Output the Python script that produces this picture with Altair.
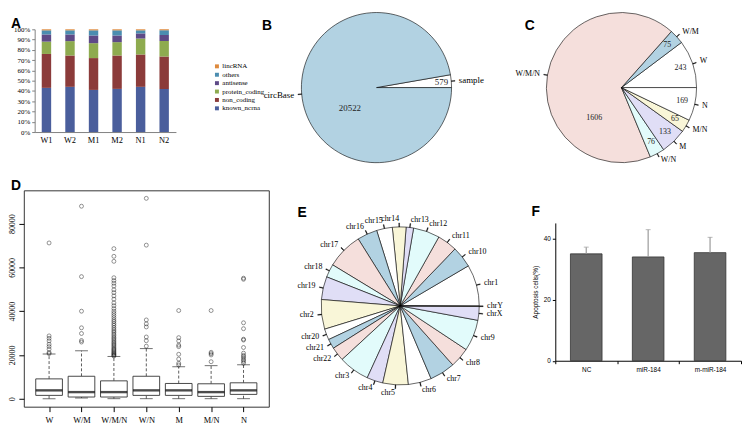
import math
import altair as alt
import pandas as pd

SERIF = "Liberation Serif"
SANS = "Liberation Sans"

# ---------------- A: stacked percentage bars ----------------
a_samples = ["W1", "W2", "M1", "M2", "N1", "N2"]
a_types = ["known_ncrna", "non_coding", "protein_coding", "antisense", "others", "lincRNA"]
a_known_ncrna = [43, 44, 41, 42, 44, 42]
a_non_coding = [33, 30.5, 31, 32.5, 31.5, 31.5]
a_protein_coding = [12, 14, 14.5, 13, 15.5, 15]
a_antisense = [7, 6.5, 7.5, 6.5, 5, 6]
a_others = [4, 4, 5, 5, 3, 4.5]
a_lincRNA = [1, 1, 1, 1, 1, 1]
a_colors = ["#4a5e9c", "#8b3b3a", "#8eab4f", "#5e4a87", "#4b8db0", "#de8a3e"]
a_ticks = [0, 10, 20, 30, 40, 50, 60, 70, 80, 90, 100]

# ---------------- B: circBase vs sample ----------------
b_labels = ["sample", "circBase"]
b_values = [579, 20522]

# ---------------- C: overlap groups ----------------
c_labels = ["W", "W/M", "W/M/N", "W/N", "M", "M/N", "N"]
c_values = [243, 75, 1606, 76, 133, 65, 169]

# R default pie palette (white, lightblue, mistyrose, lightcyan, lavender, cornsilk)
pie_palette = ["#ffffff", "#b2d2e2", "#f5dfdc", "#e2fbfb", "#e0def6", "#f9f6d8"]

# ---------------- D: boxplots ----------------
d_groups = ["W", "W/M", "W/M/N", "W/N", "M", "M/N", "N"]
d_lo = [0, 300, 0, 0, 0, 0, 0]
d_q1 = [1500, 750, 750, 1500, 1500, 1050, 1950]
d_med = [3800, 3000, 3000, 3800, 3800, 3000, 3800]
d_q3 = [9050, 10250, 8150, 10250, 6950, 6800, 7250]
d_hi = [20400, 21900, 19300, 22900, 14600, 15100, 15500]
d_out_W = [71200, 28700, 27600, 26400, 24900, 23800, 22600, 21100, 20600]
d_out_WM = [88000, 55800, 40000, 32400, 29800, 26600, 25900]
d_out_WMN = [19500, 19800, 20200, 20600, 21000, 21500, 22000, 22500, 23000, 23600,
             24200, 24800, 25400, 26000, 26700, 27400, 28000, 28800, 29500, 30300,
             31000, 31800, 32600, 33500, 34300, 35200, 36000, 37000, 38000, 39000,
             40000, 41200, 42500, 43800, 45500, 47000, 48500, 49800, 51500, 52800,
             54000, 55300, 62800, 65100, 68600]
d_out_WN = [91600, 70200, 36000, 34200, 32800, 28200, 26500, 24000]
d_out_M = [40300, 27900, 26400, 24500, 23800, 20300, 18100, 16200, 15400]
d_out_MN = [40300, 21200, 20600, 20000, 16900]
d_out_N = [55100, 54600, 34700, 32000, 27200, 26800, 23400, 20800, 19800, 19200,
           18400, 17700, 17000, 16200]

# ---------------- E: chromosomes ----------------
e_chroms = ["chr1", "chr10", "chr11", "chr12", "chr13", "chr14", "chr15", "chr16",
            "chr17", "chr18", "chr19", "chr2", "chr20", "chr21", "chr22", "chr3",
            "chr4", "chr5", "chr6", "chr7", "chr8", "chr9", "chrX", "chrY"]
e_counts = [200, 103, 96, 128, 36, 66, 76, 97, 175, 64, 111, 143, 53, 47, 68, 149,
            78, 123, 112, 123, 97, 151, 66, 3]

# ---------------- F: apoptosis bars ----------------
f_groups = ["NC", "miR-184", "m-miR-184"]
f_mean = [34.9, 33.9, 35.3]
f_sd = [2.2, 8.9, 5.0]


def panel_title(letter, dx, offset):
    return alt.TitleParams(letter, anchor="start", frame="group", font=SANS,
                           fontSize=14, fontWeight="bold", color="black",
                           dx=dx, offset=offset)


def spacer(w, h):
    return alt.Chart(pd.DataFrame({"v": [0]})).mark_point(opacity=0).properties(width=w, height=h)


def indep(c):
    return c.resolve_scale(color="independent", theta="independent",
                           x="independent", y="independent").resolve_legend(color="independent")


# ---------- A ----------
rowsA = []
for k, (t, vals) in enumerate(zip(a_types, [a_known_ncrna, a_non_coding, a_protein_coding,
                                            a_antisense, a_others, a_lincRNA])):
    for s, v in zip(a_samples, vals):
        rowsA.append({"sample": s, "type": t, "value": v, "ord": k})
dfA = pd.DataFrame(rowsA)

chartA = alt.Chart(dfA).mark_bar().encode(
    x=alt.X("sample:N", sort=a_samples,
            scale=alt.Scale(paddingInner=0.6, paddingOuter=0.3),
            axis=alt.Axis(title=None, labelAngle=0, ticks=False, domainColor="#808080",
                          labelFont=SERIF, labelFontSize=8.5, labelPadding=4)),
    y=alt.Y("value:Q", stack="zero", scale=alt.Scale(domain=[0, 100], nice=False),
            axis=alt.Axis(title=None, values=a_ticks, labelExpr="datum.value + '%'",
                          tickSize=3, domainColor="#808080", tickColor="#808080",
                          labelFont=SERIF, labelFontSize=7, labelPadding=2)),
    color=alt.Color("type:N", scale=alt.Scale(domain=a_types[::-1], range=a_colors[::-1]),
                    legend=alt.Legend(orient="none", legendX=181, legendY=34, title=None,
                                      symbolType="square", symbolSize=16, symbolStrokeWidth=0,
                                      labelFont=SERIF, labelFontSize=7, rowPadding=0.5,
                                      labelOffset=2, padding=0)),
    order=alt.Order("ord:Q", sort="ascending"),
).properties(width=143, height=104, title=panel_title("A", -24, -6))


# ---------- pies (R style: counter-clockwise from 3 o'clock) ----------
def pie_layers(labels, values, colors, radius, name_size, number_size=None,
               special=None, special_radius=None, special_dx=0, special_dy=0,
               number_radius=None):
    df = pd.DataFrame({"label": labels, "value": values, "ord": list(range(len(labels)))})
    total = float(sum(values))
    # accumulate in reverse order and sweep clockwise: same picture as R's ccw pie
    base = alt.Chart(df).transform_window(
        cum="sum(value)", sort=[alt.SortField("ord", order="descending")], frame=[None, 0]
    ).transform_joinaggregate(total="sum(value)").transform_calculate(
        start="datum.cum - datum.value",
        mid="datum.cum - datum.value / 2",
    ).transform_calculate(
        t0="datum.mid - datum.total * 0.0008",
        t1="datum.mid + datum.total * 0.0008",
        cx="cos(2 * PI * datum.mid / datum.total)",
    )
    th = alt.Scale(domain=[0, total], zero=True, nice=False,
                   range=[0.5 * math.pi, 2.5 * math.pi])
    arcs = base.mark_arc(radius=radius, stroke="black", strokeWidth=0.6).encode(
        theta=alt.Theta("start:Q", scale=th, stack=None),
        theta2="cum:Q",
        color=alt.Color("label:N", scale=alt.Scale(domain=labels, range=colors), legend=None),
    )
    ticks = base.mark_arc(radius=radius * 1.05, radius2=radius, color="black",
                          stroke="black", strokeWidth=0.3).encode(
        theta=alt.Theta("t0:Q", scale=th, stack=None), theta2="t1:Q")
    right = base.transform_filter("datum.cx >= 0").mark_text(
        radius=radius * 1.1, align="left", baseline="middle", font=SERIF,
        fontSize=name_size, color="black", fill="black").encode(
        theta=alt.Theta("mid:Q", scale=th, stack=None), text="label:N")
    left = base.transform_filter("datum.cx < 0").mark_text(
        radius=radius * 1.1, align="right", baseline="middle", font=SERIF,
        fontSize=name_size, color="black", fill="black").encode(
        theta=alt.Theta("mid:Q", scale=th, stack=None), text="label:N")
    layers = [arcs, ticks, right, left]
    if number_size:
        others = base.transform_filter(alt.FieldOneOfPredicate(field="label", oneOf=[l for l in labels if l != special])).mark_text(
            radius=number_radius, align="center", baseline="middle", font=SERIF,
            fontSize=number_size, color="#222222", fill="#222222").encode(
            theta=alt.Theta("mid:Q", scale=th, stack=None), text=alt.Text("value:Q", format="d"))
        spec = base.transform_filter(alt.FieldEqualPredicate(field="label", equal=special)).mark_text(
            radius=special_radius, align="center", baseline="middle", font=SERIF,
            fontSize=number_size, color="#222222", fill="#222222",
            dx=special_dx, dy=special_dy).encode(
            theta=alt.Theta("mid:Q", scale=th, stack=None), text=alt.Text("value:Q", format="d"))
        layers += [others, spec]
    return alt.layer(*layers)


chartB = pie_layers(b_labels, b_values, [pie_palette[i % 6] for i in range(len(b_labels))],
                    76, 9, number_size=9, special="circBase", special_radius=34,
                    special_dx=7, special_dy=18, number_radius=66).properties(
    width=406, height=118, title=panel_title("B", 87, -22))

chartC = pie_layers(c_labels, c_values, [pie_palette[i % 6] for i in range(len(c_labels))],
                    76, 8, number_size=8, special="W/M/N", special_radius=28,
                    special_dx=0, special_dy=35, number_radius=63).properties(
    width=90, height=118, title=panel_title("C", -53, -22))

chartE = pie_layers(e_chroms, e_counts, [pie_palette[i % 6] for i in range(len(e_chroms))],
                    80, 8).properties(width=266, height=234, title=panel_title("E", 29, -30))

# ---------- D ----------
dfD = pd.DataFrame({"group": d_groups, "lo": d_lo, "q1": d_q1, "med": d_med,
                    "q3": d_q3, "hi": d_hi})
out_rows = []
for g, vals in zip(d_groups, [d_out_W, d_out_WM, d_out_WMN, d_out_WN, d_out_M, d_out_MN, d_out_N]):
    for v in vals:
        out_rows.append({"group": g, "value": v})
dfOut = pd.DataFrame(out_rows)

xD = alt.X("group:N", sort=d_groups, scale=alt.Scale(type="point", padding=0.78),
           axis=alt.Axis(title=None, labelAngle=0, domain=False, tickSize=5,
                         labelFont=SERIF, labelFontSize=8.5, labelPadding=4))
ysD = alt.Scale(domain=[-3664, 95264], nice=False, zero=False)
yaD = alt.Axis(title=None, values=[0, 20000, 40000, 60000, 80000], format="d",
               labelAngle=270, labelAlign="center", labelBaseline="bottom",
               domain=False, tickSize=5, labelFont=SERIF, labelFontSize=8, labelPadding=2)

baseD = alt.Chart(dfD)
wh_up = baseD.mark_rule(strokeDash=[3, 2], strokeWidth=0.8, color="#333333").encode(
    x=xD, y=alt.Y("q3:Q", scale=ysD, axis=yaD), y2="hi:Q")
wh_lo = baseD.mark_rule(strokeDash=[3, 2], strokeWidth=0.8, color="#333333").encode(
    x=xD, y=alt.Y("lo:Q", scale=ysD, axis=yaD), y2="q1:Q")
st_up = baseD.mark_tick(size=13, thickness=1, color="#333333", orient="horizontal").encode(
    x=xD, y=alt.Y("hi:Q", scale=ysD, axis=yaD))
st_lo = baseD.mark_tick(size=13, thickness=1, color="#333333", orient="horizontal").encode(
    x=xD, y=alt.Y("lo:Q", scale=ysD, axis=yaD))
box = baseD.mark_bar(size=27, fill="white", stroke="#333333", strokeWidth=0.9).encode(
    x=xD, y=alt.Y("q1:Q", scale=ysD, axis=yaD), y2="q3:Q")
med = baseD.mark_tick(size=27, thickness=2.4, color="black", orient="horizontal").encode(
    x=xD, y=alt.Y("med:Q", scale=ysD, axis=yaD))
outs = alt.Chart(dfOut).mark_point(size=16, filled=False, color="black", strokeWidth=0.6).encode(
    x=xD, y=alt.Y("value:Q", scale=ysD, axis=yaD))

chartD = alt.layer(wh_up, wh_lo, st_up, st_lo, box, med, outs).properties(
    width=248, height=219, title=panel_title("D", -13, -3),
    view=alt.ViewBackground(stroke="#333333", strokeWidth=1))

# ---------- F ----------
dfF = pd.DataFrame({"group": f_groups, "mean": f_mean, "sd": f_sd})
xF = alt.X("group:N", sort=f_groups, scale=alt.Scale(paddingInner=0, paddingOuter=0),
           axis=alt.Axis(title=None, labelAngle=0, tickBand="extent", tickSize=3,
                         labelFont=SANS, labelFontSize=6.5, labelPadding=3))
ysF = alt.Scale(domain=[0, 45], nice=False)
yaF = alt.Axis(title="Apoptosis cells(%)", values=[0, 20, 40], tickSize=3,
               labelFont=SANS, labelFontSize=6.5, titleFont=SANS, titleFontSize=6.5,
               titleFontWeight="normal", titlePadding=5)
baseF = alt.Chart(dfF).transform_calculate(upper="datum.mean + datum.sd")
barsF = baseF.mark_bar(size=32, color="#666666", stroke="#333333", strokeWidth=0.8).encode(
    x=xF, y=alt.Y("mean:Q", scale=ysF, axis=yaF))
errF = baseF.mark_rule(color="#9a9a9a", strokeWidth=1.2).encode(
    x=xF, y=alt.Y("mean:Q", scale=ysF, axis=yaF), y2="upper:Q")
capF = baseF.mark_tick(size=5, thickness=1, color="#9a9a9a", orient="horizontal").encode(
    x=xF, y=alt.Y("upper:Q", scale=ysF, axis=yaF))
chartF = alt.layer(barsF, errF, capF).properties(
    width=188, height=139.5, title=panel_title("F", -24, 4))

# ---------- layout ----------
row1 = indep(alt.hconcat(spacer(11, 10), chartA, chartB, chartC, spacing=0, bounds="flush"))
colF = indep(alt.vconcat(spacer(188, 33), chartF, spacing=0, bounds="flush"))
row2 = indep(alt.hconcat(chartD, chartE, spacer(24, 10), colF, spacing=0, bounds="flush"))

chart = indep(alt.vconcat(row1, row2, spacing=14)).properties(
    padding=0
).configure_view(stroke=None).configure_axis(
    grid=False, labelColor="black", domainColor="black", tickColor="black",
    titleColor="black"
)

chart.save("out.html", embed_options={"renderer": "svg", "actions": False})
